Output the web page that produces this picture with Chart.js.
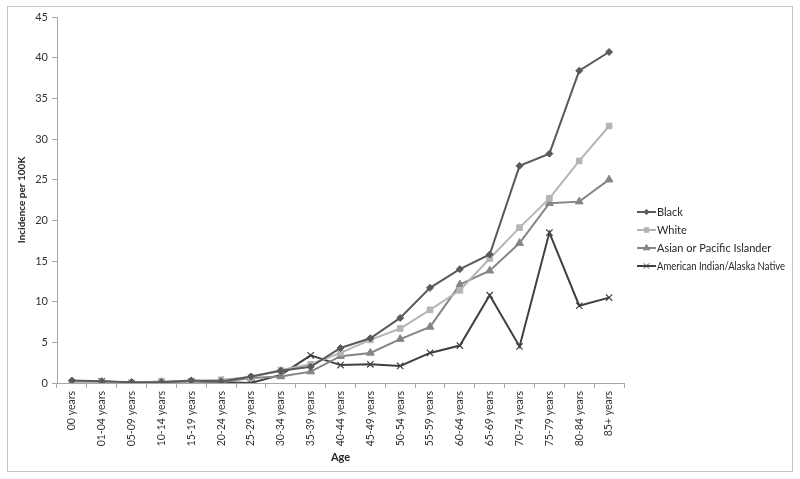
<!DOCTYPE html>
<html>
<head>
<meta charset="utf-8">
<script src="https://cdn.jsdelivr.net/npm/chart.js@4"></script>
<style>
  html, body { margin: 0; padding: 0; background: #fff; }
  #wrap { width: 800px; height: 479px; position: relative; }
</style>
</head>
<body>
<div id="wrap"><canvas id="c" width="800" height="479"></canvas></div>
<script>
// Incidence per 100K by age group and race

const AGES = ['00 years', '01-04 years', '05-09 years', '10-14 years', '15-19 years', '20-24 years',
  '25-29 years', '30-34 years', '35-39 years', '40-44 years', '45-49 years', '50-54 years',
  '55-59 years', '60-64 years', '65-69 years', '70-74 years', '75-79 years', '80-84 years', '85+ years']

const BLACK = [0.3, 0.2, 0.1, 0.1, 0.3, 0.2, 0.8, 1.5, 2.0, 4.3, 5.5, 8.0, 11.7, 14.0, 15.8, 26.7, 28.2, 38.4, 40.7]
const WHITE = [0.1, 0.1, 0.0, 0.2, 0.2, 0.4, 0.7, 1.6, 2.3, 3.7, 5.3, 6.7, 9.0, 11.4, 15.3, 19.1, 22.7, 27.3, 31.6]
const ASIAN = [0.1, 0.1, 0.0, 0.1, 0.2, 0.1, 0.6, 0.8, 1.4, 3.3, 3.7, 5.4, 6.9, 12.1, 13.8, 17.2, 22.1, 22.3, 25.0]
const AIAN = [0.0, 0.2, 0.0, 0.1, 0.2, 0.1, 0.0, 1.0, 3.4, 2.2, 2.3, 2.1, 3.7, 4.6, 10.8, 4.5, 18.5, 9.5, 10.5]

const FONT = "Lato, 'Open Sans', sans-serif"

function series(label, data, color, style, radius) {
  return {
    label, data,
    borderColor: color,
    backgroundColor: color,
    borderWidth: 2,
    pointStyle: style,
    pointRadius: radius,
    pointBorderWidth: style === 'crossRot' ? 1.2 : 1,
    pointBackgroundColor: color,
    pointBorderColor: color,
    tension: 0,
  }
}

// Outer frame around the whole chart
const framePlugin = {
  id: 'frame',
  beforeDraw(chart) {
    const ctx = chart.ctx
    ctx.save()
    ctx.strokeStyle = '#c4c4c4'
    ctx.lineWidth = 1
    ctx.strokeRect(7.5, 6.5, 785, 465)
    ctx.restore()
  },
}

// Legend with line + marker samples, placed right of the plot
const legendPlugin = {
  id: 'sideLegend',
  afterDraw(chart) {
    const ctx = chart.ctx
    const x0 = 637, y0 = 212, step = 18
    ctx.save()
    chart.data.datasets.forEach((ds, i) => {
      const y = y0 + i * step
      ctx.strokeStyle = ds.borderColor
      ctx.fillStyle = ds.borderColor
      ctx.lineWidth = 2
      ctx.beginPath()
      ctx.moveTo(x0, y)
      ctx.lineTo(x0 + 19, y)
      ctx.stroke()
      ctx.lineWidth = 1
      Chart.helpers.drawPoint(ctx, {
        pointStyle: ds.pointStyle, radius: ds.pointRadius - 0.8,
        borderWidth: 1, rotation: 0,
      }, x0 + 9.5, y)
      ctx.fillStyle = '#262626'
      ctx.font = '11px ' + FONT
      ctx.textBaseline = 'middle'
      ctx.textAlign = 'left'
      ctx.fillText(ds.label, x0 + 20, y, 128)
    })
    ctx.restore()
  },
}

new Chart(document.getElementById('c'), {
  type: 'line',
  data: {
    labels: AGES,
    datasets: [
      series('Black', BLACK, '#5a5a5a', 'rectRot', 3.5),
      series('White', WHITE, '#b5b5b5', 'rect', 4),
      series('Asian or Pacific Islander', ASIAN, '#858585', 'triangle', 4.5),
      series('American Indian/Alaska Native', AIAN, '#404040', 'crossRot', 4.5),
    ],
  },
  options: {
    responsive: false,
    animation: false,
    layout: { padding: { left: 14, top: 17, right: 176, bottom: 11 } },
    plugins: { legend: { display: false }, tooltip: { enabled: false } },
    scales: {
      x: {
        offset: true,
        grid: { offset: true, drawOnChartArea: false, drawTicks: true, tickLength: 5, color: '#a6a6a6' },
        border: { color: '#a6a6a6' },
        ticks: { color: '#333', font: { family: FONT, size: 10.5 }, minRotation: 90, maxRotation: 90, autoSkip: false, padding: 3 },
        title: { display: true, text: 'Age', color: '#262626', font: { family: FONT, size: 11, weight: 'bold' }, padding: { top: 6 } },
        afterFit: s => { s.height = 85 },
      },
      y: {
        min: 0, max: 45,
        grid: { drawOnChartArea: false, drawTicks: true, tickLength: 5, color: '#a6a6a6' },
        border: { color: '#a6a6a6' },
        ticks: { stepSize: 5, color: '#333', font: { family: FONT, size: 11 }, padding: 4 },
        title: { display: true, text: 'Incidence per 100K', color: '#262626', font: { family: FONT, size: 10, weight: 'bold' }, padding: 2 },
        afterFit: s => { s.width = 43 },
      },
    },
  },
  plugins: [framePlugin, legendPlugin],
})
</script>
</body>
</html>
